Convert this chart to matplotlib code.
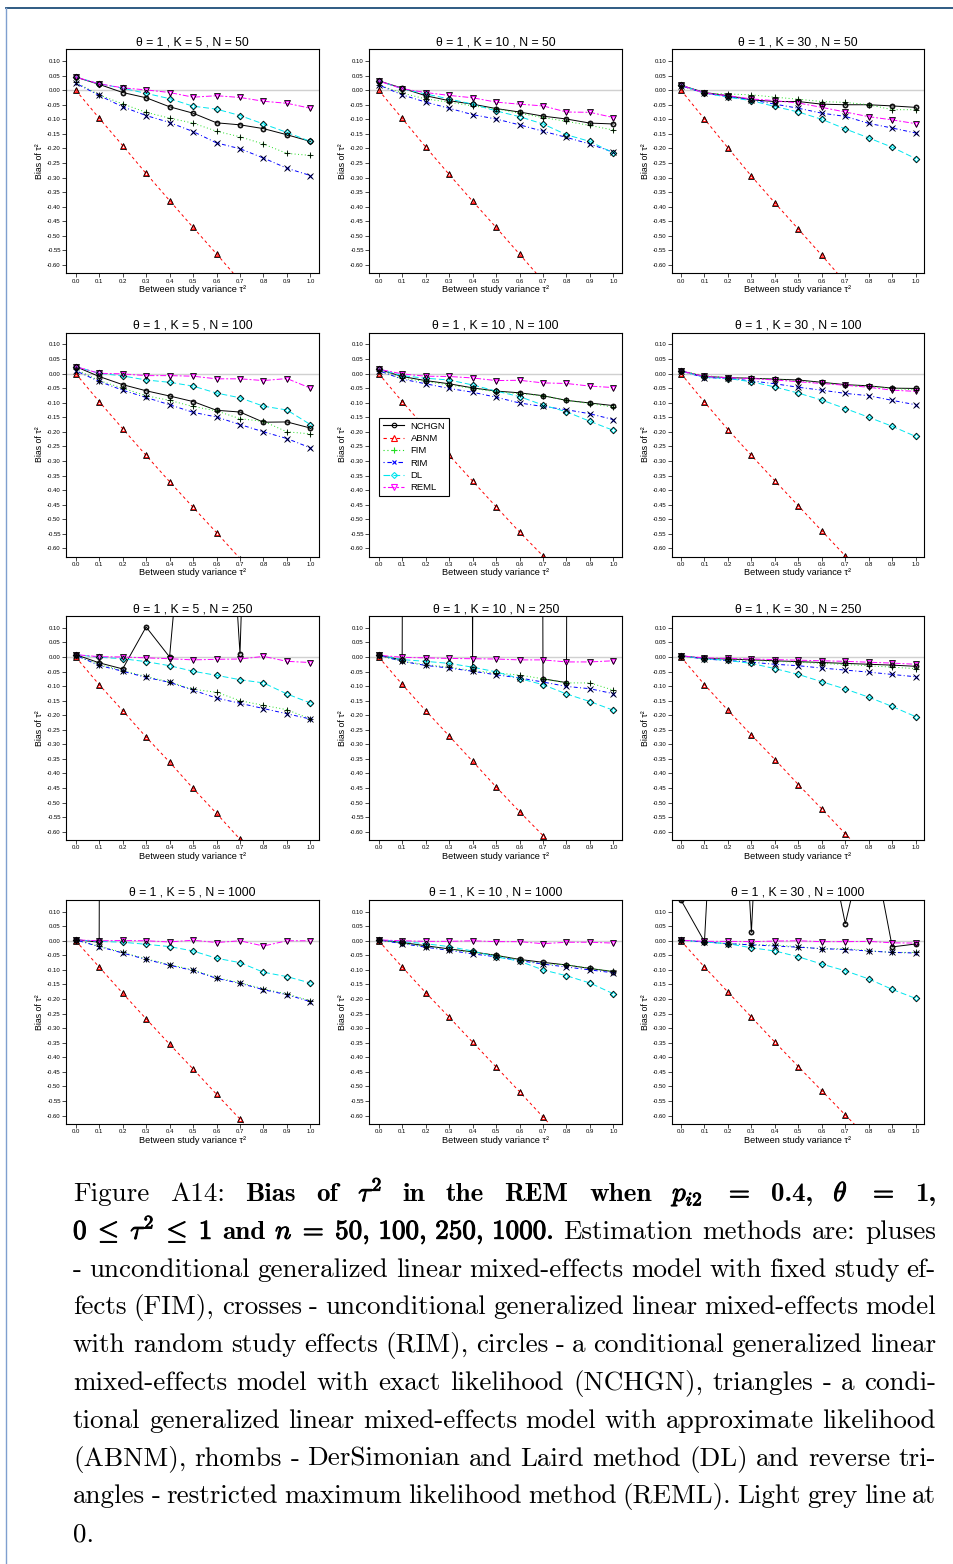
import matplotlib
matplotlib.use("Agg")
import matplotlib.pyplot as plt
import matplotlib.patheffects as pe
from matplotlib.lines import Line2D

# between-study variance grid
tau2 = [0.0, 0.1, 0.2, 0.3, 0.4, 0.5, 0.6, 0.7, 0.8, 0.9, 1.0]
K_values = [5, 10, 30]
N_values = [50, 100, 250, 1000]
methods = ["NCHGN", "ABNM", "FIM", "RIM", "DL", "REML"]

# one row per panel: (K=5,N=50), (K=10,N=50), (K=30,N=50), (K=5,N=100), ...
nchgn = [
    [0.045, 0.020, -0.008, -0.026, -0.057, -0.079, -0.112, -0.119, -0.132, -0.153, -0.176],
    [0.032, 0.007, -0.019, -0.036, -0.048, -0.063, -0.075, -0.089, -0.099, -0.113, -0.116],
    [0.017, -0.008, -0.019, -0.033, -0.039, -0.039, -0.048, -0.050, -0.050, -0.054, -0.059],
    [0.024, -0.010, -0.038, -0.059, -0.077, -0.096, -0.126, -0.132, -0.167, -0.166, -0.187],
    [0.015, -0.010, -0.024, -0.035, -0.049, -0.060, -0.066, -0.076, -0.092, -0.101, -0.110],
    [0.009, -0.010, -0.014, -0.016, -0.019, -0.022, -0.030, -0.038, -0.042, -0.050, -0.051],
    [0.008, -0.020, -0.041, 0.103, 0.000, 0.900, 1.310, 0.010, 2.600, 3.000, 3.000],
    [0.006, -0.010, 30.0, 30.0, -0.040, 30.0, 30.0, -0.075, -0.088, 30.0, 30.0],
    [0.004, -0.005, -0.007, -0.010, -0.013, -0.016, -0.019, -0.022, -0.025, -0.028, -0.032],
    [0.004, -0.005, 30.0, 30.0, 30.0, 30.0, 30.0, 30.0, 30.0, 30.0, 30.0],
    [0.003, -0.006, -0.017, -0.028, -0.038, -0.050, -0.064, -0.074, -0.083, -0.095, -0.106],
    [0.140, -0.003, 1.500, 0.029, 1.700, 1.000, 0.450, 0.059, 0.400, -0.021, -0.011],
]
abnm = [
    [0.000, -0.096, -0.190, -0.286, -0.379, -0.471, -0.562, -0.655, -0.745, -0.840, -0.930],
    [0.000, -0.097, -0.195, -0.289, -0.381, -0.471, -0.563, -0.655, -0.750, -0.840, -0.930],
    [0.000, -0.099, -0.198, -0.295, -0.387, -0.477, -0.567, -0.660, -0.750, -0.840, -0.930],
    [0.000, -0.096, -0.189, -0.281, -0.371, -0.459, -0.546, -0.635, -0.720, -0.800, -0.890],
    [0.000, -0.096, -0.187, -0.280, -0.369, -0.457, -0.544, -0.626, -0.710, -0.790, -0.880],
    [0.000, -0.098, -0.192, -0.281, -0.368, -0.454, -0.540, -0.626, -0.710, -0.790, -0.880],
    [0.000, -0.095, -0.184, -0.275, -0.361, -0.451, -0.537, -0.626, -0.710, -0.790, -0.880],
    [0.000, -0.094, -0.184, -0.271, -0.358, -0.446, -0.531, -0.613, -0.700, -0.780, -0.860],
    [0.000, -0.095, -0.183, -0.268, -0.352, -0.438, -0.522, -0.607, -0.690, -0.770, -0.850],
    [0.000, -0.090, -0.180, -0.268, -0.355, -0.440, -0.527, -0.612, -0.700, -0.780, -0.860],
    [0.000, -0.090, -0.178, -0.262, -0.348, -0.433, -0.518, -0.605, -0.690, -0.770, -0.850],
    [0.000, -0.090, -0.176, -0.262, -0.348, -0.432, -0.515, -0.598, -0.680, -0.760, -0.840],
]
fim = [
    [0.027, -0.016, -0.047, -0.076, -0.096, -0.113, -0.141, -0.160, -0.185, -0.217, -0.224],
    [0.018, -0.010, -0.030, -0.041, -0.054, -0.064, -0.079, -0.094, -0.107, -0.121, -0.137],
    [0.015, -0.010, -0.013, -0.016, -0.024, -0.031, -0.039, -0.042, -0.050, -0.067, -0.067],
    [0.015, -0.024, -0.050, -0.076, -0.092, -0.113, -0.128, -0.155, -0.164, -0.200, -0.207],
    [0.010, -0.016, -0.027, -0.039, -0.051, -0.062, -0.069, -0.076, -0.092, -0.103, -0.115],
    [0.009, -0.007, -0.014, -0.016, -0.020, -0.025, -0.032, -0.040, -0.044, -0.051, -0.056],
    [0.006, -0.026, -0.047, -0.067, -0.086, -0.111, -0.121, -0.150, -0.166, -0.181, -0.213],
    [0.006, -0.015, -0.026, -0.035, -0.047, -0.055, -0.062, -0.075, -0.089, -0.089, -0.114],
    [0.004, -0.005, -0.008, -0.012, -0.015, -0.018, -0.022, -0.026, -0.030, -0.035, -0.040],
    [0.003, -0.018, -0.040, -0.062, -0.082, -0.100, -0.127, -0.144, -0.165, -0.183, -0.206],
    [0.003, -0.008, -0.020, -0.030, -0.040, -0.050, -0.065, -0.080, -0.082, -0.095, -0.105],
    [0.002, -0.004, -0.010, -0.013, -0.015, -0.020, -0.028, -0.027, -0.034, -0.040, -0.040],
]
rim = [
    [0.024, -0.018, -0.057, -0.087, -0.111, -0.142, -0.181, -0.201, -0.233, -0.268, -0.293],
    [0.018, -0.016, -0.041, -0.062, -0.084, -0.099, -0.119, -0.141, -0.162, -0.185, -0.213],
    [0.015, -0.010, -0.022, -0.033, -0.048, -0.062, -0.079, -0.090, -0.114, -0.130, -0.147],
    [0.010, -0.027, -0.057, -0.082, -0.107, -0.133, -0.149, -0.175, -0.200, -0.223, -0.255],
    [0.010, -0.019, -0.035, -0.051, -0.064, -0.081, -0.101, -0.113, -0.124, -0.138, -0.158],
    [0.009, -0.014, -0.016, -0.025, -0.035, -0.047, -0.057, -0.068, -0.076, -0.092, -0.107],
    [0.006, -0.029, -0.049, -0.070, -0.087, -0.114, -0.141, -0.159, -0.177, -0.195, -0.213],
    [0.006, -0.015, -0.029, -0.038, -0.049, -0.061, -0.072, -0.086, -0.101, -0.109, -0.126],
    [0.004, -0.007, -0.012, -0.018, -0.025, -0.030, -0.038, -0.045, -0.052, -0.060, -0.068],
    [0.003, -0.020, -0.042, -0.064, -0.084, -0.102, -0.129, -0.146, -0.168, -0.185, -0.209],
    [0.003, -0.010, -0.022, -0.033, -0.045, -0.055, -0.068, -0.080, -0.090, -0.100, -0.110],
    [0.002, -0.004, -0.010, -0.014, -0.018, -0.022, -0.027, -0.030, -0.035, -0.040, -0.042],
]
dl = [
    [0.045, 0.022, 0.007, -0.011, -0.029, -0.055, -0.065, -0.087, -0.116, -0.145, -0.176],
    [0.032, 0.005, -0.013, -0.030, -0.048, -0.071, -0.091, -0.116, -0.153, -0.176, -0.216],
    [0.017, -0.010, -0.024, -0.036, -0.056, -0.075, -0.100, -0.133, -0.164, -0.196, -0.235],
    [0.024, 0.001, -0.008, -0.022, -0.030, -0.043, -0.067, -0.083, -0.112, -0.125, -0.175],
    [0.015, -0.007, -0.016, -0.022, -0.039, -0.060, -0.079, -0.108, -0.131, -0.164, -0.195],
    [0.009, -0.013, -0.017, -0.028, -0.046, -0.067, -0.091, -0.120, -0.150, -0.181, -0.216],
    [0.008, -0.001, -0.006, -0.016, -0.030, -0.049, -0.063, -0.078, -0.089, -0.127, -0.158],
    [0.006, -0.009, -0.015, -0.022, -0.035, -0.051, -0.074, -0.095, -0.127, -0.153, -0.183],
    [0.004, -0.006, -0.012, -0.022, -0.040, -0.060, -0.085, -0.110, -0.138, -0.170, -0.205],
    [0.003, -0.002, -0.005, -0.012, -0.020, -0.035, -0.060, -0.075, -0.108, -0.123, -0.145],
    [0.003, -0.003, -0.010, -0.020, -0.035, -0.055, -0.070, -0.100, -0.120, -0.145, -0.182],
    [0.002, -0.004, -0.010, -0.024, -0.035, -0.055, -0.080, -0.103, -0.131, -0.167, -0.198],
]
reml = [
    [0.045, 0.022, 0.008, 0.001, -0.008, -0.024, -0.019, -0.025, -0.038, -0.045, -0.062],
    [0.032, 0.005, -0.008, -0.018, -0.026, -0.041, -0.048, -0.054, -0.075, -0.076, -0.094],
    [0.017, -0.010, -0.019, -0.030, -0.036, -0.044, -0.059, -0.075, -0.091, -0.102, -0.115],
    [0.024, 0.001, -0.001, -0.007, -0.007, -0.009, -0.018, -0.018, -0.024, -0.017, -0.050],
    [0.015, -0.001, -0.009, -0.010, -0.015, -0.024, -0.023, -0.032, -0.034, -0.043, -0.048],
    [0.009, -0.010, -0.014, -0.017, -0.022, -0.028, -0.034, -0.040, -0.047, -0.057, -0.061],
    [0.008, 0.001, 0.000, -0.003, -0.006, -0.010, -0.008, -0.007, 0.002, -0.015, -0.019],
    [0.006, -0.001, -0.003, -0.005, -0.006, -0.007, -0.010, -0.010, -0.017, -0.017, -0.013],
    [0.004, -0.003, -0.005, -0.007, -0.009, -0.011, -0.013, -0.015, -0.018, -0.021, -0.025],
    [0.003, 0.000, 0.001, 0.000, -0.004, 0.002, -0.006, 0.000, -0.018, 0.000, 0.000],
    [0.003, 0.000, -0.002, -0.002, 0.000, -0.003, -0.003, -0.010, -0.005, -0.005, -0.008],
    [0.002, -0.002, -0.002, -0.003, -0.001, 0.000, -0.003, -0.003, -0.002, -0.007, -0.008],
]

yticks = [0.10, 0.05, 0.00, -0.05, -0.10, -0.15, -0.20, -0.25, -0.30,
          -0.35, -0.40, -0.45, -0.50, -0.55, -0.60]

plt.rcParams["font.family"] = ["Liberation Sans", "DejaVu Sans"]
plt.rcParams["mathtext.fontset"] = "cm"
plt.rcParams["axes.unicode_minus"] = False

series = [nchgn, abnm, fim, rim, dl, reml]
colors = ["black", "#ff0000", "#22dd22", "#0000ff", "#00e5ee", "#ff00ff"]
markers = ["o", "^", "+", "x", "D", "v"]
msizes = [3.6, 4.2, 4.8, 3.8, 3.4, 4.2]
styles = ["-", (0, (3, 3)), (0, (1, 2.5)), (0, (1, 2.5, 4, 2.5)), (0, (6, 3)), (0, (2, 2, 6, 2))]

W, H = 954, 1564
fig = plt.figure(figsize=(W / 100, H / 100), dpi=100)

col_left = [66.3, 369.3, 671.6]
row_top = [49.4, 332.8, 616.2, 900.0]
ax_w, ax_h = 252.8, 223.7

for r, N in enumerate(N_values):
    for c, K in enumerate(K_values):
        p = r * 3 + c
        ax = fig.add_axes([col_left[c] / W, 1 - (row_top[r] + ax_h) / H, ax_w / W, ax_h / H])
        ax.axhline(0, color="#d0d0d0", lw=1.0, zorder=1)
        for s, col, m, ms, ls in zip(series, colors, markers, msizes, styles):
            ax.plot(tau2, s[p], color=col, ls=ls, lw=0.7, marker=m, ms=ms * 0.75,
                    mfc="none", mec=col, mew=0.8, zorder=2)
            ax.plot(tau2, s[p], ls="none", marker=m, ms=ms, mfc="none",
                    mec="black", mew=0.6, zorder=3)
        ax.set_xlim(-0.04, 1.037)
        ax.set_ylim(-0.628, 0.14)
        ax.set_xticks(tau2)
        ax.set_xticklabels([f"{v:.1f}" for v in tau2], fontsize=4.3)
        ax.set_yticks(yticks)
        ax.set_yticklabels([f"{v:.2f}" for v in yticks], fontsize=4.3)
        ax.tick_params(direction="out", length=3, width=0.5, pad=1)
        for sp in ax.spines.values():
            sp.set_linewidth(0.8)
        ax.set_title(f"θ = 1 , K = {K} , N = {N}", fontsize=8.8, pad=3)
        ax.set_xlabel("Between study variance τ²", fontsize=6.6, labelpad=1)
        ax.set_ylabel("Bias of τ²", fontsize=6.3, labelpad=2)
        if p == 4:
            handles = [Line2D([0], [0], color=col, ls=ls, lw=0.8, marker=m, ms=ms * 0.9,
                              mfc="none", mec=col, mew=0.8)
                       for col, m, ms, ls in zip(colors, markers, msizes, styles)]
            leg = ax.legend(handles, methods, loc="upper left", bbox_to_anchor=(0.04, 0.62),
                            fontsize=6.8, frameon=True, fancybox=False, framealpha=1,
                            edgecolor="black", handlelength=2.2, handletextpad=0.7,
                            labelspacing=0.35, borderpad=0.4, borderaxespad=0)
            leg.get_frame().set_linewidth(0.8)

# page frame lines
fig.add_artist(Line2D([6 / W, 1], [1 - 8 / H, 1 - 8 / H], color="#1f4e79", lw=1.3,
                      transform=fig.transFigure))
fig.add_artist(Line2D([6 / W, 6 / W], [0, 1 - 8 / H], color="#7f9fcf", lw=1.0,
                      transform=fig.transFigure))

# caption, justified word by word
caption = [
    [("Figure", "r"), ("A14:", "r"), ("Bias", "b"), ("of", "b"), (r"$\tau^2$", "mb"),
     ("in", "b"), ("the", "b"), ("REM", "b"), ("when", "b"), (r"$p_{i2}$", "mb"),
     (r"$=$", "mb"), ("0.4,", "b"), (r"$\theta$", "mb"), (r"$=$", "mb"), ("1,", "b")],
    [(r"$0\;\leq\;\tau^2\;\leq\;1$", "mb"), ("and", "b"),
     (r"$n\;=\;50,\,100,\,250,\,1000.$", "mb"),
     ("Estimation", "r"), ("methods", "r"), ("are:", "r"), ("pluses", "r")],
    "- unconditional generalized linear mixed-effects model with fixed study ef-",
    "fects (FIM), crosses - unconditional generalized linear mixed-effects model",
    "with random study effects (RIM), circles - a conditional generalized linear",
    "mixed-effects model with exact likelihood (NCHGN), triangles - a condi-",
    "tional generalized linear mixed-effects model with approximate likelihood",
    "(ABNM), rhombs - DerSimonian and Laird method (DL) and reverse tri-",
    "angles - restricted maximum likelihood method (REML). Light grey line at",
    "0.",
]
styles_txt = {
    "r": dict(family="cmr10"),
    "b": dict(family="cmb10"),
    "mb": dict(path_effects=[pe.withStroke(linewidth=0.7, foreground="black")]),
}
fs = 19.5
x_left, x_right = 73, 936
base0, step = 1201, 37.8
renderer = fig.canvas.get_renderer()
for i, line in enumerate(caption):
    if isinstance(line, str):
        line = [(w, "r") for w in line.split(" ")]
    y = 1 - (base0 + i * step) / H
    texts = [fig.text(0, y, w, fontsize=fs, va="baseline", ha="left", color="black",
                      **styles_txt[st]) for w, st in line]
    widths = [t.get_window_extent(renderer).width for t in texts]
    if i == len(caption) - 1 or len(texts) == 1:
        gap = fs * 0.33
    else:
        gap = (x_right - x_left - sum(widths)) / (len(texts) - 1)
    x = x_left
    for t, w in zip(texts, widths):
        t.set_x(x / W)
        x += w + gap

fig.savefig("out.png", dpi=100)
